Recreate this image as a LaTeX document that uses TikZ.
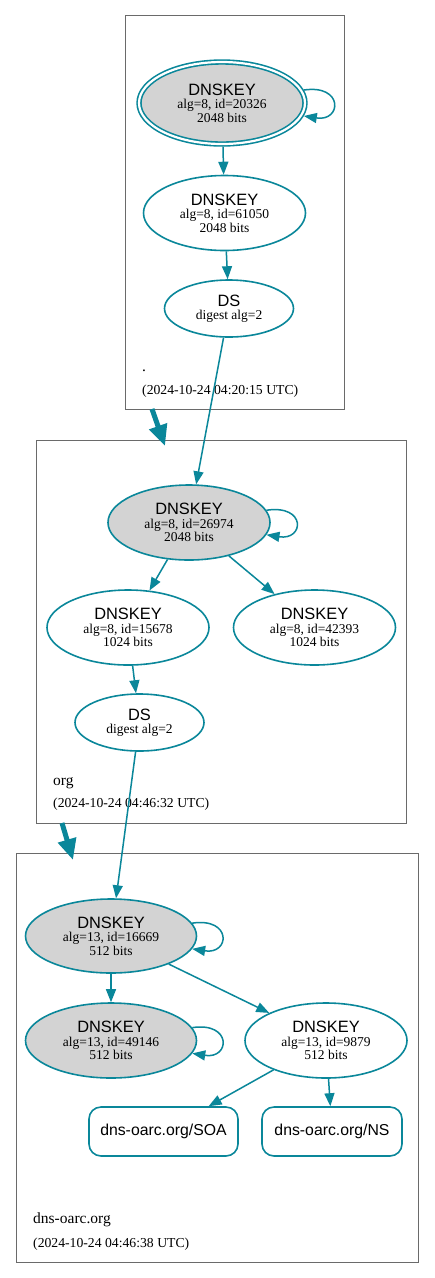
\documentclass[tikz,border=0pt]{standalone}
\usepackage{fontspec}
\setmainfont{Liberation Serif}
\newfontfamily\sansf{Liberation Sans}
\usetikzlibrary{shapes.geometric,arrows.meta}
\definecolor{sec}{HTML}{0A879A}
\definecolor{kskgray}{HTML}{D3D3D3}
\definecolor{clus}{HTML}{6A6A6A}
\newcommand\keytitle{\sansf\fontsize{16.4}{18}\selectfont}
\newcommand\keydet{\rmfamily\fontsize{13.5}{13.5}\selectfont}
\newcommand\rrfont{\sansf\fontsize{15.8}{18}\selectfont}
\newcommand\zonefont{\rmfamily\fontsize{15.5}{18}\selectfont}
\newcommand\datefont{\rmfamily\fontsize{13.7}{16}\selectfont}
\begin{document}
\begin{tikzpicture}[x=1pt,y=-1pt,
  cluster/.style={draw=clus,line width=0.9pt},
  keynode/.style={ellipse,draw=sec,line width=1.6pt,inner sep=0pt,align=center,font=\keydet,fill=white},
  kskfill/.style={fill=kskgray},
  rrnode/.style={rectangle,rounded corners=12pt,draw=sec,line width=1.6pt,font=\rrfont,inner sep=0pt,fill=white},
  edge/.style={draw=sec,line width=1.5pt,-{Triangle[length=13pt,width=10pt]}},
  deleg/.style={draw=sec,line width=5pt,-{Triangle[length=21pt,width=18pt]}},
  zonelabel/.style={anchor=base west,font=\zonefont,inner sep=0pt},
  datelabel/.style={anchor=base west,font=\datefont,inner sep=0pt}]
\useasboundingbox[fill=white] (0,0) rectangle (435,1278);

% clusters
\draw[cluster] (125,15) rectangle (344,409);
\draw[cluster] (36,440) rectangle (406.5,823);
\draw[cluster] (16,853) rectangle (418,1262);

% root zone
\node[keynode,kskfill,double=white,double distance=2.2pt,outer sep=2.7pt,minimum width=166pt,minimum height=82pt] (A) at (222,103)
  {{\keytitle DNSKEY}\\alg=8, id=20326\\2048 bits};
\node[keynode,minimum width=162pt,minimum height=75pt] (B) at (224.5,213)
  {{\keytitle DNSKEY}\\alg=8, id=61050\\2048 bits};
\node[keynode,minimum width=129pt,minimum height=57pt] (C) at (229,308.5)
  {{\keytitle DS}\\digest alg=2};
\node[zonelabel] (rootname) at (142,371) {.};
\node[datelabel] (rootdate) at (142,394) {(2024-10-24 04:20:15 UTC)};

% org zone
\node[keynode,kskfill,minimum width=162pt,minimum height=75pt] (D) at (189,522.5)
  {{\keytitle DNSKEY}\\alg=8, id=26974\\2048 bits};
\node[keynode,minimum width=162pt,minimum height=75pt] (E) at (128,627.5)
  {{\keytitle DNSKEY}\\alg=8, id=15678\\1024 bits};
\node[keynode,minimum width=162pt,minimum height=75pt] (F) at (314.5,627.5)
  {{\keytitle DNSKEY}\\alg=8, id=42393\\1024 bits};
\node[keynode,minimum width=129pt,minimum height=57pt] (G) at (139.5,722.5)
  {{\keytitle DS}\\digest alg=2};
\node[zonelabel] (orgname) at (53,785) {org};
\node[datelabel] (orgdate) at (53,807.5) {(2024-10-24 04:46:32 UTC)};

% dns-oarc.org zone
\node[keynode,kskfill,minimum width=171pt,minimum height=74pt] (H) at (111,936)
  {{\keytitle DNSKEY}\\alg=13, id=16669\\512 bits};
\node[keynode,kskfill,minimum width=171pt,minimum height=75pt] (I) at (111,1040.5)
  {{\keytitle DNSKEY}\\alg=13, id=49146\\512 bits};
\node[keynode,minimum width=162pt,minimum height=75pt] (J) at (326,1040.5)
  {{\keytitle DNSKEY}\\alg=13, id=9879\\512 bits};
\node[rrnode,minimum width=149pt,minimum height=49pt] (K) at (163.5,1131.5) {dns-oarc.org/SOA};
\node[rrnode,minimum width=140pt,minimum height=49pt] (L) at (332,1131.5) {dns-oarc.org/NS};
\node[zonelabel] (dnsname) at (33,1223.5) {dns-oarc.org};
\node[datelabel] (dnsdate) at (33,1247.5) {(2024-10-24 04:46:38 UTC)};

% edges
\draw[edge] (A) -- (B);
\draw[edge] (B) -- (C);
\draw[edge] (C) -- (D);
\draw[edge] (D) -- (E);
\draw[edge] (D) -- (F);
\draw[edge] (E) -- (G);
\draw[edge] (G) -- (H);
\draw[edge] (H) -- (I);
\draw[edge] (H) -- (J);
\draw[edge] (J) -- (K);
\draw[edge] (J) -- (L);

% self loops
\draw[edge] (A.9) .. controls +(40,-6) and +(38,6) .. (A.-9);
\draw[edge] (D.9) .. controls +(40,-6) and +(38,6) .. (D.-9);
\draw[edge] (H.9) .. controls +(40,-6) and +(38,6) .. (H.-9);
\draw[edge] (I.9) .. controls +(40,-6) and +(38,6) .. (I.-9);

% delegation arrows
\coordinate (rootout) at (152,409);
\coordinate (orgin) at (165,446);
\coordinate (orgout) at (62,823);
\coordinate (dnsin) at (73,860);
\draw[deleg] (rootout) -- (orgin);
\draw[deleg] (orgout) -- (dnsin);
\end{tikzpicture}
\end{document}
